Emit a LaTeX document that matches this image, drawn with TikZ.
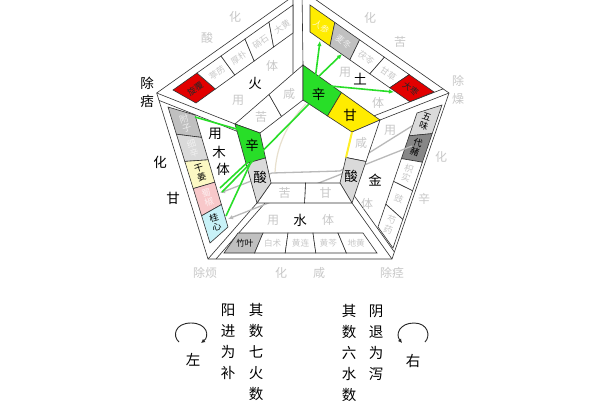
\documentclass[tikz,border=0pt]{standalone}
\usepackage{fontspec}
\newfontfamily\cjk{Noto Sans CJK SC}
\usetikzlibrary{calc,arrows.meta}
\definecolor{lnc}{RGB}{50,50,50}
\definecolor{grn}{RGB}{40,222,40}
\definecolor{ylw}{RGB}{255,236,0}
\definecolor{rdd}{RGB}{226,0,0}
\definecolor{fdd}{RGB}{200,200,200}
\definecolor{ltg}{RGB}{218,218,218}
\definecolor{mdg}{RGB}{192,192,192}
\definecolor{dkg}{RGB}{135,135,135}
\definecolor{lyl}{RGB}{252,248,196}
\definecolor{pnk}{RGB}{248,200,202}
\definecolor{lcy}{RGB}{200,242,248}
\definecolor{gra}{RGB}{185,185,185}
\definecolor{bge}{RGB}{232,224,206}
\newcommand\mycell[6]{%
  \pgfmathsetmacro\myta{#5*0.2}\pgfmathsetmacro\mytb{#5*0.2+0.2}%
  \filldraw[ln,fill=#6] ($(#1)!\myta!(#2)$) -- ($(#1)!\mytb!(#2)$) -- ($(#4)!\mytb!(#3)$) -- ($(#4)!\myta!(#3)$) -- cycle;}
\newcommand\mytext[7]{%
  \pgfmathsetmacro\mytm{#5*0.2+0.1}%
  \coordinate (mya) at ($(#1)!\mytm!(#2)$);%
  \coordinate (myb) at ($(#4)!\mytm!(#3)$);%
  \node[#6] at ($(mya)!0.5!(myb)$) {#7};}
\begin{document}
\begin{tikzpicture}[x=1pt,y=-1pt,
  ln/.style={draw=lnc,line width=0.6pt},
  herb/.style={font=\cjk\fontsize{8.6}{9}\selectfont,inner sep=0pt},
  fherb/.style={herb,text=fdd},
  sherb/.style={font=\cjk\fontsize{9}{9.8}\selectfont,inner sep=0pt,align=center},
  lab/.style={font=\cjk\fontsize{13.5}{13.5}\selectfont,inner sep=0pt},
  flab/.style={font=\cjk\fontsize{12}{12}\selectfont,text=fdd,inner sep=0pt},
  col/.style={font=\cjk\fontsize{14.5}{14.5}\selectfont,inner sep=0pt},
  gline/.style={draw=grn,line width=1.6pt},
  garr/.style={gline,-{Latex[length=5pt,width=4.5pt]}},
  grayarr/.style={draw=gra,line width=1.3pt,-{Latex[length=5pt,width=4.5pt]}}]
\useasboundingbox (0,0) rectangle (600,400);
\fill[white] (0,0) rectangle (600,400);
\clip (0,0) rectangle (600,400);
% outer pentagon
\coordinate (T) at (302,-10);
\coordinate (L) at (156.7,93);
\coordinate (R) at (449,93);
\coordinate (LR) at (392,259);
\coordinate (LL) at (208,259);
% ring outer
\coordinate (T2) at (303,65);
\coordinate (R2) at (380,120);
\coordinate (LR2) at (352,203);
\coordinate (LL2) at (257,203);
\coordinate (L2) at (235,124);
% ring inner
\coordinate (C1) at (303,100);
\coordinate (C2) at (352,132);
\coordinate (C3) at (340,183);
\coordinate (C4) at (271,183);
\coordinate (C5) at (260,133);
\coordinate (M1o) at ($(L2)!0.5!(T2)$);
\coordinate (M1i) at ($(C5)!0.5!(C1)$);
\coordinate (M2o) at ($(T2)!0.5!(R2)$);
\coordinate (M2i) at ($(C1)!0.5!(C2)$);
\coordinate (M3o) at ($(R2)!0.5!(LR2)$);
\coordinate (M3i) at ($(C2)!0.5!(C3)$);
\coordinate (M4o) at ($(LR2)!0.5!(LL2)$);
\coordinate (M4i) at ($(C3)!0.5!(C4)$);
\coordinate (M5o) at ($(L2)!0.5!(LL2)$);
\coordinate (M5i) at ($(C5)!0.5!(C4)$);
% frame
\draw[ln] (T) -- (R) -- (LR) -- (LL) -- (L) -- cycle;
\draw[ln] (T) -- (T2) (R) -- (R2) (LR) -- (LR2) (LL) -- (LL2) (L) -- (L2);
\coordinate (i1a) at (293,-3.6); \coordinate (i1b) at (293,73.7);
\coordinate (i2a) at (159,100.4); \coordinate (i2b) at (237,131.3);
\coordinate (i3a) at (216,259); \coordinate (i3b) at (265,203);
\coordinate (i4a) at (394.4,252); \coordinate (i4b) at (354.4,196);
\coordinate (i5a) at (443.2,88.8); \coordinate (i5b) at (374.2,115.8);
\draw[ln] (i1a) -- (i1b) (i2a) -- (i2b) (i3a) -- (i3b) (i4a) -- (i4b) (i5a) -- (i5b);
% herb bands
\coordinate (hA) at (173,90); \coordinate (hB) at (293,5); \coordinate (hBp) at (293,33); \coordinate (hAp) at (196,103);
\coordinate (tA) at (310,5); \coordinate (tB) at (434,92); \coordinate (tBp) at (409.7,101.7); \coordinate (tAp) at (310,32);
\coordinate (jA) at (442,105); \coordinate (jB) at (393,248); \coordinate (jBp) at (378,227); \coordinate (jAp) at (417,113);
\coordinate (sA) at (238,233); \coordinate (sB) at (363,233); \coordinate (sBp) at (377,253); \coordinate (sAp) at (224,253);
\coordinate (mA) at (168,107); \coordinate (mB) at (210,243); \coordinate (mBp) at (228,227); \coordinate (mAp) at (195,115);
% fire
\mycell{hA}{hB}{hBp}{hAp}{0}{rdd}
\mycell{hA}{hB}{hBp}{hAp}{1}{white}
\mycell{hA}{hB}{hBp}{hAp}{2}{white}
\mycell{hA}{hB}{hBp}{hAp}{3}{white}
\mycell{hA}{hB}{hBp}{hAp}{4}{white}
\mytext{hA}{hB}{hBp}{hAp}{0}{herb,rotate=35,text=black!85}{旋覆}
\mytext{hA}{hB}{hBp}{hAp}{1}{fherb,rotate=35}{葶苈}
\mytext{hA}{hB}{hBp}{hAp}{2}{fherb,rotate=35}{厚朴}
\mytext{hA}{hB}{hBp}{hAp}{3}{fherb,rotate=35}{硝石}
\mytext{hA}{hB}{hBp}{hAp}{4}{fherb,rotate=35}{大黄}
% earth
\mycell{tA}{tB}{tBp}{tAp}{0}{ylw}
\mycell{tA}{tB}{tBp}{tAp}{1}{mdg}
\mycell{tA}{tB}{tBp}{tAp}{2}{white}
\mycell{tA}{tB}{tBp}{tAp}{3}{white}
\mycell{tA}{tB}{tBp}{tAp}{4}{rdd}
\mytext{tA}{tB}{tBp}{tAp}{0}{herb,rotate=-35,text=white!80!ylw}{人参}
\mytext{tA}{tB}{tBp}{tAp}{1}{herb,rotate=-35,text=white!75!mdg}{麦冬}
\mytext{tA}{tB}{tBp}{tAp}{2}{fherb,rotate=-35}{茯苓}
\mytext{tA}{tB}{tBp}{tAp}{3}{fherb,rotate=-35}{甘草}
\mytext{tA}{tB}{tBp}{tAp}{4}{herb,rotate=-35,text=black!85}{大枣}
% metal
\mycell{jA}{jB}{jBp}{jAp}{0}{ltg}
\mycell{jA}{jB}{jBp}{jAp}{1}{dkg}
\mycell{jA}{jB}{jBp}{jAp}{2}{white}
\mycell{jA}{jB}{jBp}{jAp}{3}{white}
\mycell{jA}{jB}{jBp}{jAp}{4}{white}
\mytext{jA}{jB}{jBp}{jAp}{0}{sherb,rotate=-19}{五\\味}
\mytext{jA}{jB}{jBp}{jAp}{1}{sherb,rotate=-19}{代\\赭}
\mytext{jA}{jB}{jBp}{jAp}{2}{sherb,rotate=-19,text=fdd}{枳\\实}
\mytext{jA}{jB}{jBp}{jAp}{3}{sherb,rotate=-19,text=fdd}{豉}
\mytext{jA}{jB}{jBp}{jAp}{4}{sherb,rotate=-19,text=fdd}{芍\\药}
% water
\mycell{sA}{sB}{sBp}{sAp}{0}{mdg}
\mycell{sA}{sB}{sBp}{sAp}{1}{white}
\mycell{sA}{sB}{sBp}{sAp}{2}{white}
\mycell{sA}{sB}{sBp}{sAp}{3}{white}
\mycell{sA}{sB}{sBp}{sAp}{4}{white}
\mytext{sA}{sB}{sBp}{sAp}{0}{herb}{竹叶}
\mytext{sA}{sB}{sBp}{sAp}{1}{fherb}{白术}
\mytext{sA}{sB}{sBp}{sAp}{2}{fherb}{黄连}
\mytext{sA}{sB}{sBp}{sAp}{3}{fherb}{黄芩}
\mytext{sA}{sB}{sBp}{sAp}{4}{fherb}{地黄}
% wood
\mycell{mA}{mB}{mBp}{mAp}{0}{mdg}
\mycell{mA}{mB}{mBp}{mAp}{1}{ltg}
\mycell{mA}{mB}{mBp}{mAp}{2}{lyl}
\mycell{mA}{mB}{mBp}{mAp}{3}{pnk}
\mycell{mA}{mB}{mBp}{mAp}{4}{lcy}
\mytext{mA}{mB}{mBp}{mAp}{0}{sherb,rotate=17,text=white!70!mdg}{附\\子}
\mytext{mA}{mB}{mBp}{mAp}{1}{sherb,rotate=17,text=white!60!ltg}{细\\辛}
\mytext{mA}{mB}{mBp}{mAp}{2}{sherb,rotate=17}{干\\姜}
\mytext{mA}{mB}{mBp}{mAp}{3}{sherb,rotate=17,text=white!70!pnk}{蜀\\椒}
\mytext{mA}{mB}{mBp}{mAp}{4}{sherb,rotate=17}{桂\\心}
% faint centre lines and gray arrows
\draw[draw=bge,line width=1.2pt] (306,104) .. controls (285,125) and (276,150) .. (275,173);
\coordinate (ga1) at (412,126); \coordinate (ga1b) at (340,171); \coordinate (ga1c) at (272,173); \coordinate (ga1e) at (220,193);
\coordinate (ga2) at (412,146); \coordinate (ga2e) at (228,219);
\draw[grayarr] (ga1) -- (ga1b) -- (ga1c) -- (ga1e);
\draw[grayarr] (ga2) -- (ga2e);
% ring cells
\filldraw[ln,fill=white] (L2) -- (M1o) -- (M1i) -- (C5) -- cycle;
\filldraw[ln,fill=white] (M1o) -- (T2) -- (C1) -- (M1i) -- cycle;
\filldraw[ln,fill=grn] (T2) -- (M2o) -- (M2i) -- (C1) -- cycle;
\filldraw[ln,fill=ylw] (M2o) -- (R2) -- (C2) -- (M2i) -- cycle;
\filldraw[ln,fill=white] (R2) -- (M3o) -- (M3i) -- (C2) -- cycle;
\filldraw[ln,fill=ltg] (M3o) -- (LR2) -- (C3) -- (M3i) -- cycle;
\filldraw[ln,fill=white] (LR2) -- (M4o) -- (M4i) -- (C3) -- cycle;
\filldraw[ln,fill=white] (M4o) -- (LL2) -- (C4) -- (M4i) -- cycle;
\filldraw[ln,fill=grn] (L2) -- (M5o) -- (M5i) -- (C5) -- cycle;
\filldraw[ln,fill=ltg] (M5o) -- (LL2) -- (C4) -- (M5i) -- cycle;
\draw[draw=ylw!85!white,line width=2pt] (C2) -- (M3i);
% ring texts
\node[flab] at (261,117) {苦};
\node[flab] at (289,94) {咸};
\node[lab] at (318.5,94) {辛};
\node[lab] at (350,115) {甘};
\node[flab] at (361,143) {咸};
\node[lab] at (351,176) {酸};
\node[flab] at (325.5,193) {甘};
\node[flab] at (284.5,193) {苦};
\node[lab] at (252,145) {辛};
\node[lab] at (260,177) {酸};
% green lines
\coordinate (gs1) at (315,80); \coordinate (gs2) at (330,86);
\coordinate (ge1) at (320,41); \coordinate (ge2) at (342,54); \coordinate (ge3) at (394,92);
\draw[garr] (gs1) -- (ge1);
\draw[garr] (gs1) -- (ge2);
\draw[garr] (gs2) -- (ge3);
\coordinate (gl1) at (309,104); \coordinate (gl1e) at (222,192);
\coordinate (gl2) at (250,160); \coordinate (gl2e) at (220,188);
\coordinate (gl3) at (251,162); \coordinate (gl3e) at (226,216);
\coordinate (gl4) at (195,117); \coordinate (gl4e) at (240,130);
\draw[gline] (gl1) -- (gl1e);
\draw[gline] (gl2) -- (gl2e);
\draw[gline] (gl3) -- (gl3e);
\draw[gline] (gl4) -- (gl4e);
% sector labels
\node[lab] at (255,83) {火};
\node[lab] at (360,79) {土};
\node[lab] at (375,180) {金};
\node[lab] at (300,220) {水};
\node[lab] at (215,134) {用};
\node[lab] at (219,152) {木};
\node[lab] at (223,169) {体};
\node[flab] at (272,66) {体};
\node[flab] at (238,100) {用};
\node[flab] at (345,72) {用};
\node[flab] at (378,103) {体};
\node[flab] at (390,130) {用};
\node[flab] at (367,204) {体};
\node[flab] at (273,220) {用};
\node[flab] at (328,220) {体};
% outside labels
\node[flab] at (235,17) {化};
\node[flab] at (207,38) {酸};
\node[flab] at (370,18) {化};
\node[flab] at (400,42) {苦};
\node[flab] at (458,81) {除};
\node[flab] at (458,99) {燥};
\node[flab] at (441,157) {化};
\node[flab] at (424,199) {辛};
\node[flab] at (392,273) {除痉};
\node[flab] at (281,273) {化};
\node[flab] at (319,273) {咸};
\node[flab] at (205,273) {除烦};
\node[lab] at (147,83) {除};
\node[lab] at (147,101) {痞};
\node[lab] at (160,162) {化};
\node[lab] at (173,198) {甘};
% bottom text
\foreach \ch [count=\i] in {阳,进,为,补} \node[col] at (228,{310+(\i-1)*21}) {\ch};
\foreach \ch [count=\i] in {其,数,七,火,数} \node[col] at (256,{310+(\i-1)*21}) {\ch};
\foreach \ch [count=\i] in {其,数,六,水,数} \node[col] at (349,{311+(\i-1)*21}) {\ch};
\foreach \ch [count=\i] in {阴,退,为,泻} \node[col] at (376,{311+(\i-1)*21}) {\ch};
\node[col] (zuo) at (193,360) {左};
\node[col] (you) at (413,361) {右};
\coordinate (ca1) at (179,342); \coordinate (ca2) at (191,323); \coordinate (ca3) at (201,343);
\draw[draw=black!85,line width=0.9pt,-{Latex[length=4pt,width=4pt]}] (ca1) .. controls (172,336) and (175,323) .. (ca2) .. controls (207,323) and (210,336) .. (ca3);
\coordinate (cb1) at (425,342); \coordinate (cb2) at (414,323); \coordinate (cb3) at (402,343);
\draw[draw=black!85,line width=0.9pt,-{Latex[length=4pt,width=4pt]}] (cb1) .. controls (431,336) and (428,323) .. (cb2) .. controls (400,323) and (395,334) .. (cb3);
\end{tikzpicture}
\end{document}
